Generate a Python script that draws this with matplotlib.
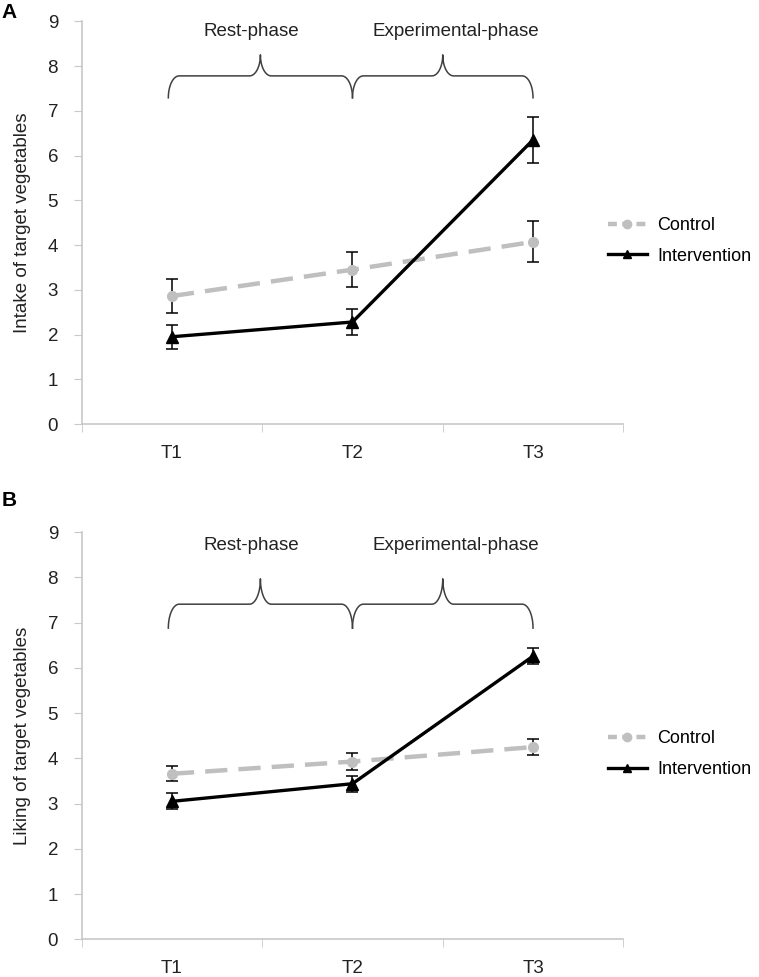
import numpy as np
import matplotlib
matplotlib.use("Agg")
import matplotlib.pyplot as plt
from matplotlib.lines import Line2D

plt.rcParams['font.family'] = ['Liberation Sans', 'DejaVu Sans']

times = ["T1", "T2", "T3"]

# panel A: intake
intake_control = [2.86, 3.45, 4.07]
intake_control_err = [0.37, 0.39, 0.46]
intake_interv = [1.95, 2.28, 6.35]
intake_interv_err = [0.27, 0.30, 0.52]

# panel B: liking
liking_control = [3.66, 3.93, 4.25]
liking_control_err = [0.17, 0.18, 0.18]
liking_interv = [3.05, 3.44, 6.26]
liking_interv_err = [0.18, 0.18, 0.18]

phases = ["Rest-phase", "Experimental-phase"]
series = ["Control", "Intervention"]

grey = "#bfbfbf"
axis_grey = "#c8c8c8"
txt = "#222222"
fs = 13.5


def brace(ax, x0, x1, y_base, y_mid, y_tip):
    # curly brace opening downward
    xm = (x0 + x1) / 2
    r = 0.06
    t = np.linspace(0, np.pi / 2, 20)
    lx = x0 + r - r * np.cos(t)
    ly = y_base + (y_mid - y_base) * np.sin(t)
    tx = xm - r + r * np.sin(t)
    ty = y_mid + (y_tip - y_mid) * (1 - np.cos(t))
    xs = np.concatenate([lx, tx, (2 * xm - tx)[::-1], (2 * xm - lx)[::-1]])
    ys = np.concatenate([ly, ty, ty[::-1], ly[::-1]])
    ax.plot(xs, ys, color="#404040", lw=1.1, clip_on=False)


def draw_panel(ax, ctrl, ctrl_err, interv, interv_err, ylabel, brace_y, text_y):
    x = np.arange(len(times))
    ax.errorbar(x, ctrl, yerr=ctrl_err, color=grey, lw=3.2, dashes=(5, 2.5),
                marker="o", ms=7, ecolor="black", elinewidth=1.1, capsize=4,
                capthick=1.1, zorder=2)
    ax.errorbar(x, interv, yerr=interv_err, color="black", lw=2.4,
                marker="^", ms=8.5, ecolor="black", elinewidth=1.1, capsize=4,
                capthick=1.1, zorder=3)

    ax.set_xlim(-0.5, 2.5)
    ax.set_ylim(0, 9)
    ax.set_yticks(range(10))
    ax.set_xticks(x)
    ax.set_xticklabels(times)
    ax.set_xticks([-0.5, 0.5, 1.5, 2.5], minor=True)
    ax.tick_params(axis="x", which="major", length=0, pad=15, labelsize=fs,
                   colors=txt)
    ax.tick_params(axis="x", which="minor", length=6, color=axis_grey)
    ax.tick_params(axis="y", length=6, pad=11, color=axis_grey, labelsize=fs,
                   labelcolor=txt)
    for s in ["top", "right"]:
        ax.spines[s].set_visible(False)
    for s in ["left", "bottom"]:
        ax.spines[s].set_color(axis_grey)
        ax.spines[s].set_linewidth(1.2)
    ax.set_ylabel(ylabel, fontsize=fs, color=txt, labelpad=12)

    base, mid, tip = brace_y
    brace(ax, -0.02, 1.0, base, mid, tip)
    brace(ax, 1.0, 2.0, base, mid, tip)
    ax.text(0.44, text_y, phases[0], ha="center", va="center", fontsize=fs,
            color=txt)
    ax.text(1.57, text_y, phases[1], ha="center", va="center", fontsize=fs,
            color=txt)

    handles = [
        Line2D([], [], color=grey, lw=3.2, dashes=(2, 1.2), marker="o", ms=6),
        Line2D([], [], color="black", lw=2.4, marker="^", ms=6),
    ]
    ax.legend(handles, series, loc="center left", bbox_to_anchor=(0.941, 0.455),
              frameon=False, fontsize=13, handlelength=2.2, handletextpad=0.55,
              labelspacing=0.75)


fig = plt.figure(figsize=(7.59, 9.77), dpi=100)
axA = fig.add_axes([0.1076, 0.566, 0.7136, 0.4122])
axB = fig.add_axes([0.1076, 0.0386, 0.7136, 0.4166])

draw_panel(axA, intake_control, intake_control_err, intake_interv,
           intake_interv_err, "Intake of target vegetables",
           (7.29, 7.78, 8.25), 8.78)
draw_panel(axB, liking_control, liking_control_err, liking_interv,
           liking_interv_err, "Liking of target vegetables",
           (6.88, 7.41, 7.97), 8.70)

fig.text(0.002, 0.997, "A", fontsize=15, fontweight="bold", va="top")
fig.text(0.002, 0.497, "B", fontsize=15, fontweight="bold", va="top")

fig.savefig("out.png", dpi=100)
